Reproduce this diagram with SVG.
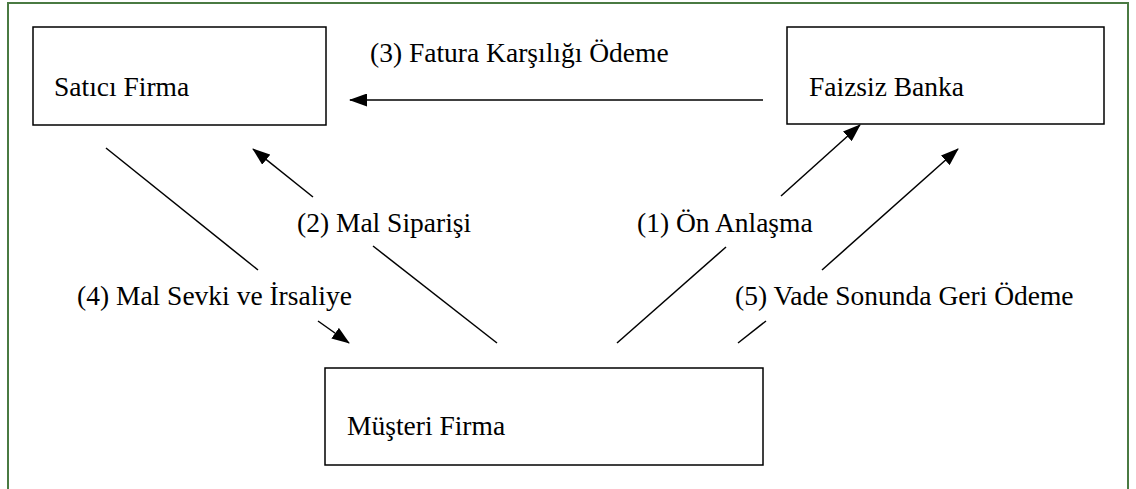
<svg xmlns="http://www.w3.org/2000/svg" width="1136" height="489" viewBox="0 0 1136 489">
<style>
.box{fill:#fff;stroke:#000;stroke-width:1.5}
.t{font-family:'Liberation Serif','Times New Roman','DejaVu Serif',serif;font-size:27.5px;fill:#000}
.c{stroke:#000;stroke-width:1.5;fill:none}
</style>
<defs>
<marker id="ah" viewBox="0 0 18 13" refX="17" refY="6.5" markerWidth="18" markerHeight="13" markerUnits="userSpaceOnUse" orient="auto">
<path d="M0,0 L18,6.5 L0,13 Z" fill="#000"/>
</marker>
</defs>
<rect x="0" y="0" width="1136" height="489" fill="#fff"/>
<path d="M8,495 L8,3 L1128,3 L1128,495" fill="none" stroke="#4a7a42" stroke-width="2"/>
<g id="satici">
<rect class="box" x="33" y="27" width="293" height="98"/>
<text class="t" x="54" y="96">Satıcı Firma</text>
</g>
<g id="banka">
<rect class="box" x="787" y="27" width="317" height="97"/>
<text class="t" x="809" y="96">Faizsiz Banka</text>
</g>
<g id="musteri">
<rect class="box" x="325" y="368" width="438" height="97"/>
<text class="t" x="347" y="435">Müşteri Firma</text>
</g>
<g id="connectors">
<line class="c" x1="763" y1="100" x2="350" y2="100" marker-end="url(#ah)"/>
<line class="c" x1="106" y1="148" x2="258" y2="270"/>
<line class="c" x1="318" y1="321" x2="349" y2="343" marker-end="url(#ah)"/>
<line class="c" x1="497" y1="343" x2="373" y2="246"/>
<line class="c" x1="313" y1="197" x2="253" y2="149" marker-end="url(#ah)"/>
<line class="c" x1="617" y1="343" x2="726" y2="247"/>
<line class="c" x1="781" y1="196" x2="860" y2="125" marker-end="url(#ah)"/>
<line class="c" x1="738" y1="343" x2="766" y2="321"/>
<line class="c" x1="822" y1="270" x2="958" y2="149" marker-end="url(#ah)"/>
</g>
<g id="labels">
<text class="t" x="370" y="62">(3) Fatura Karşılığı Ödeme</text>
<text class="t" x="297" y="232">(2) Mal Siparişi</text>
<text class="t" x="637" y="232">(1) Ön Anlaşma</text>
<text class="t" x="77" y="305">(4) Mal Sevki ve İrsaliye</text>
<text class="t" x="735" y="305">(5) Vade Sonunda Geri Ödeme</text>
</g>
</svg>
